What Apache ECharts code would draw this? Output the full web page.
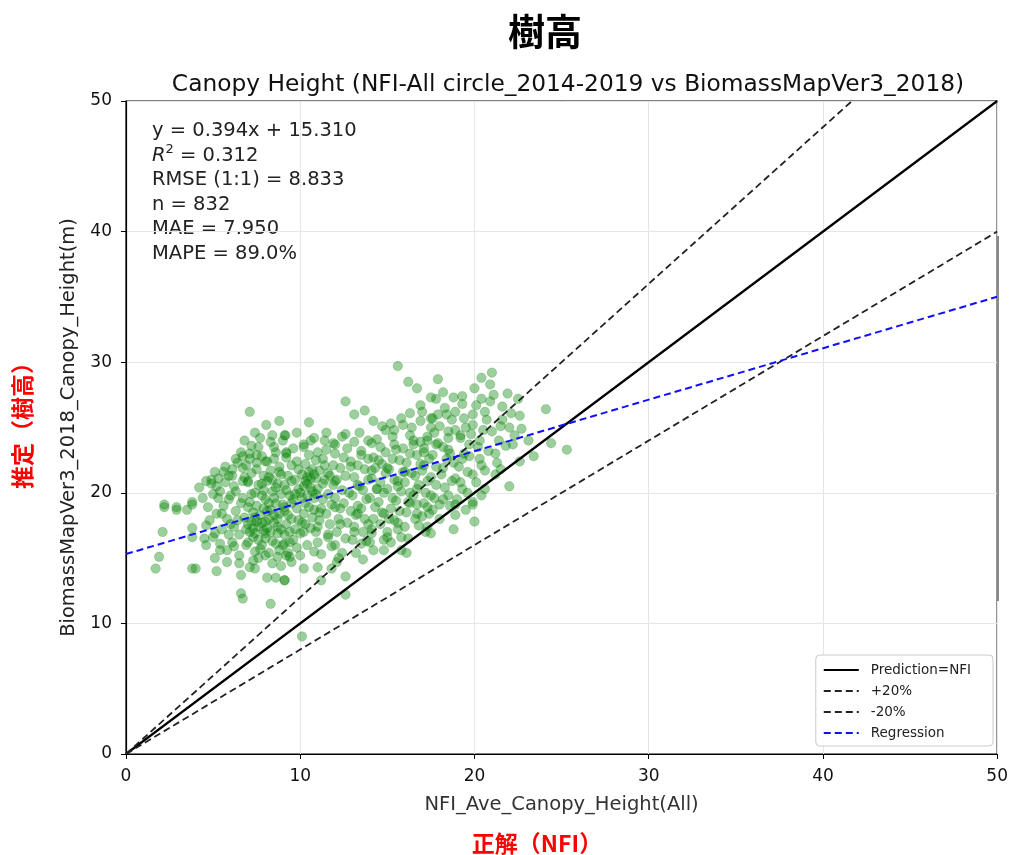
<!DOCTYPE html>
<html><head><meta charset="utf-8">
<script src="https://cdn.jsdelivr.net/npm/echarts@6/dist/echarts.min.js"></script>
<style>html,body{margin:0;padding:0;background:#fff}#c{width:1011px;height:855px}</style>
</head><body><div id="c"></div>
<script>
// ---- data ----
const xTicks = [0,10,20,30,40,50];
const yTicks = [0,10,20,30,40,50];
const regSlope = 0.394, regIntercept = 15.310;
const lineOneToOne = [[0,0],[50,50]];
const linePlus20 = [[0,0],[41.667,50]];
const lineMinus20 = [[0,0],[50,40]];
const regX = [0,50];
const points = [
[1.7,14.2],[1.9,15.1],[2.1,17.0],[2.2,18.9],[2.9,18.9],[3.5,18.7],[3.8,19.1],[3.8,16.6],[3.8,14.2],[4.0,14.2],
[5.1,15.0],[5.2,14.0],[4.6,17.5],[4.5,16.5],[5.0,16.6],[4.7,18.9],[5.5,18.4],[5.4,16.1],[5.8,14.7],[6.5,14.6],
[6.6,13.7],[6.6,12.3],[6.7,11.9],[8.3,11.5],[7.1,14.3],[7.4,14.2],[8.1,13.5],[8.6,13.5],[9.1,13.3],[8.0,15.2],
[8.7,15.1],[9.2,15.2],[5.8,15.6],[6.1,16.2],[6.2,17.4],[5.1,16.9],[3.8,17.3],
[4.2,20.4],[4.9,20.7],[5.2,20.5],[5.9,21.3],[6.1,21.3],[6.7,22.8],[7.1,23.0],[7.6,23.5],[7.5,22.9],[6.7,21.9],
[7.0,20.9],[5.4,20.1],[5.9,19.5],[2.2,19.1],[2.9,18.7],[3.8,19.3],[8.5,23.5],[9.2,23.1],[8.0,22.4],[8.8,21.6],
[7.1,26.2],[8.05,25.2],[8.8,25.5],[8.4,24.4],[9.15,24.4],
[9.1,24.4],[9.2,23.0],[10.2,23.7],[10.8,24.2],[11.5,24.6],[10.5,25.4],[12.0,23.7],[12.6,24.5],[13.1,23.9],[13.1,26.0],
[13.7,26.3],[12.6,27.0],[14.2,25.5],[14.7,25.1],[15.2,25.3],[15.8,25.7],[16.3,26.1],[16.9,26.7],[17.0,26.2],[15.6,29.7],
[16.2,28.5],[16.7,28.0],[17.5,27.3],[17.5,25.7],[15.3,24.3],[16.3,24.4],[17.3,24.0],[14.6,23.5],[14.1,23.8],[13.5,22.9],
[14.2,22.7],[15.4,23.7],[16.5,23.7],[17.1,23.4],[12.0,23.0],[11.0,23.1],[9.8,22.4],[11.4,22.1],[12.9,22.4],[14.1,21.7],
[15.0,21.9],[16.0,21.6],[17.1,22.1],[9.5,20.9],[10.6,21.1],[12.0,20.9],[13.3,20.6],[14.4,20.3],[15.6,20.5],[16.7,20.3],
[17.5,19.8],
[9.1,18.9],[9.9,17.9],[9.3,15.4],[9.1,13.3],[10.2,14.2],[11.0,14.3],[11.2,13.3],[11.8,14.2],[12.6,13.6],[12.6,12.2],
[10.1,9.0],[12.1,14.7],[12.4,15.4],[13.6,14.9],[14.8,15.6],[16.1,15.4],[15.8,15.6],[13.1,17.0],[14.1,16.9],[15.0,16.6],
[15.6,17.2],[13.5,16.1],[11.6,16.6],[11.0,17.4],[12.3,17.6],[10.2,17.0],[9.1,16.1],[9.5,14.7],[16.7,18.4],[17.3,18.9],
[16.3,19.2],[14.8,18.4],[13.3,18.4],[12.0,18.9],[10.8,18.7],[13.9,17.6],[15.4,17.9],[17.3,17.4],[17.5,16.9],
[17.9,28.7],[20.4,28.8],[21.0,29.2],[20.9,28.3],[20.0,28.0],[21.9,27.6],[22.5,27.2],[24.1,26.4],[25.3,23.3],[22.6,25.9],
[22.7,24.9],[23.1,24.0],[24.4,23.8],[23.4,22.8],[22.0,20.5],[21.3,22.3],[22.6,22.4],[18.2,27.7],[17.8,27.2],[18.8,27.3],
[19.3,26.8],[18.3,26.5],[18.9,26.2],[20.1,26.7],[20.4,27.2],[21.1,27.5],[20.6,26.2],[19.4,25.7],[19.9,25.2],[17.6,25.7],
[18.0,25.1],[18.5,24.7],[19.2,24.4],[21.0,24.7],[21.5,25.1],[22.1,26.1],[21.6,25.6],[20.3,24.0],[19.7,23.7],[18.5,23.3],
[17.8,23.7],[19.3,22.6],[20.4,22.1],[18.2,21.9],[21.2,21.4],[19.9,21.4],[18.9,21.1],[17.8,20.6],[19.3,20.3],[20.6,20.3],
[18.5,19.8],[19.9,19.3],[22.2,23.7],
[20.0,17.8],[18.8,17.2],[19.9,19.1],[19.5,18.7],[18.0,19.1],[18.9,19.1],[17.4,18.4],
[6.0,19.8],[6.2,20.5],[6.3,18.6],[6.4,17.9],[6.5,16.8],[6.6,19.2],[6.7,20.9],[6.8,18.1],[6.9,17.2],[6.1,21.8],
[6.4,22.3],[6.8,21.2],[6.2,15.9],[6.9,16.0],[6.5,15.2],[6.3,20.1],[6.7,19.6],[6.0,17.6],[6.9,22.1],[5.6,19.0],
[5.8,18.0],[5.5,17.2],[5.3,19.6],[5.7,20.8],[5.9,16.8],[5.2,18.4],[5.0,19.9],[4.8,17.9],[4.6,16.0],[5.4,15.6],
[5.7,22.0],[4.9,21.0],[5.1,21.6],
[7.0,16.2],[7.1,17.0],[7.2,17.8],[7.3,18.5],[7.1,19.3],[7.4,20.0],[7.0,20.8],[7.2,21.5],[7.5,22.3],[7.3,16.6],
[7.6,17.4],[7.7,18.3],[7.5,19.0],[7.8,19.8],[7.6,20.6],[7.9,21.3],[7.4,15.5],[7.8,16.0],[7.9,17.1],[7.2,23.6],
[7.7,24.2],[7.0,18.9],[7.6,15.0],[7.3,14.8],[7.9,18.8],[7.5,21.8],[7.1,22.6],[7.8,22.8],[7.4,16.9],[7.7,15.7],
[7.2,19.9],[7.9,20.2],[7.3,17.3],[7.6,16.4],[7.0,17.6],[7.8,17.7],[7.4,18.1],
[8.0,16.5],[8.1,17.3],[8.2,18.0],[8.3,18.7],[8.0,19.5],[8.4,20.1],[8.1,20.9],[8.3,21.7],[8.5,22.6],[8.6,16.1],
[8.7,16.9],[8.5,17.7],[8.8,18.4],[8.6,19.2],[8.9,19.9],[8.7,20.7],[8.9,21.4],[8.2,15.4],[8.8,15.6],[8.4,14.6],
[8.9,14.4],[8.1,22.4],[8.6,23.1],[8.3,23.9],[8.0,17.8],[8.5,19.6],[8.2,21.2],[8.8,22.0],[8.4,16.3],[8.7,18.0],
[8.9,17.2],[8.1,18.6],[8.6,20.4],[8.3,17.0],[8.0,16.9],[8.5,18.3],
[9.0,16.0],[9.1,16.8],[9.2,17.6],[9.3,18.3],[9.0,19.1],[9.4,19.8],[9.1,20.6],[9.3,21.3],[9.5,22.1],[9.6,16.4],
[9.7,17.2],[9.5,18.0],[9.8,18.8],[9.6,19.5],[9.9,20.3],[9.7,21.0],[9.9,21.8],[9.4,15.1],[9.8,15.8],[9.2,22.7],
[9.6,23.4],[9.0,24.0],[9.8,24.6],[9.4,17.0],[9.1,18.6],[9.7,19.9],
[10.0,16.9],[10.1,17.7],[10.2,18.4],[10.3,19.2],[10.0,20.0],[10.4,20.7],[10.1,21.4],[10.3,22.2],[10.5,22.9],[10.6,17.3],
[10.7,18.1],[10.5,18.9],[10.8,19.6],[10.6,20.4],[10.9,21.1],[10.7,21.8],[10.9,22.5],[10.4,16.0],[10.8,15.5],[10.2,23.5],
[10.6,24.0],[10.0,15.2],[10.9,17.0],[10.3,20.9],[10.5,21.6],[10.1,19.6],[10.7,20.1],[10.4,21.2],[10.8,21.4],[10.2,20.5],
[11.0,16.2],[11.1,17.9],[11.2,18.8],[11.3,19.5],[11.0,20.3],[11.4,21.0],[11.1,21.7],[11.3,22.6],[11.5,23.3],[11.6,16.8],
[11.7,17.6],[11.5,18.4],[11.8,19.1],[11.6,19.9],[11.9,20.6],[11.7,21.3],[11.9,22.1],[11.2,15.3],[11.8,15.9],[11.4,24.0],
[11.9,23.8],[11.1,18.5],[11.6,21.5],
[12.0,16.0],[12.1,17.0],[12.2,18.0],[12.3,18.8],[12.0,19.6],[12.4,20.2],[12.1,21.0],[12.3,21.9],[12.5,22.7],[12.6,16.5],
[12.7,17.7],[12.5,19.2],[12.8,20.0],[12.6,21.3],[12.9,22.0],[12.7,23.4],[12.2,15.0],[12.9,18.6],[12.4,24.3],
[13.0,16.4],[13.1,17.4],[13.2,18.3],[13.3,19.0],[13.0,19.8],[13.4,20.5],[13.1,21.2],[13.3,22.1],[13.5,23.2],[13.6,17.0],
[13.7,18.0],[13.5,18.8],[13.8,19.5],[13.6,20.2],[13.9,21.0],[13.7,21.8],[13.9,22.6],[13.2,15.4],[13.8,16.3],[13.4,24.6],
[13.9,24.0],
[14.0,16.2],[14.1,17.2],[14.2,18.0],[14.3,18.9],[14.0,19.6],[14.4,20.3],[14.1,21.1],[14.3,21.9],[14.5,22.5],[14.6,17.6],
[14.7,18.5],[14.5,19.3],[14.8,20.0],[14.6,20.8],[14.9,21.5],[14.7,22.2],[14.9,23.1],[14.2,15.6],[14.8,16.4],[14.4,24.1],
[14.9,24.8],
[15.0,17.0],[15.1,18.0],[15.2,18.8],[15.3,19.6],[15.0,20.3],[15.4,21.0],[15.1,21.8],[15.3,22.6],[15.5,23.3],[15.6,17.7],
[15.7,18.6],[15.5,19.4],[15.8,20.1],[15.6,20.9],[15.9,21.6],[15.7,22.5],[15.9,23.4],[15.2,16.2],[15.8,16.6],[15.4,24.8],
[15.9,25.2],
[16.0,17.4],[16.1,18.5],[16.2,19.3],[16.3,20.0],[16.0,20.8],[16.4,21.5],[16.1,22.3],[16.3,23.0],[16.5,24.0],[16.6,18.0],
[16.7,19.1],[16.5,19.8],[16.8,20.6],[16.6,21.3],[16.9,22.2],[16.7,22.9],[16.9,23.9],[16.2,16.5],[16.8,17.5],[16.4,25.0],
[16.9,25.5],
[17.0,18.2],[17.1,19.2],[17.2,20.0],[17.3,20.9],[17.0,21.7],[17.4,22.6],[17.1,23.1],[17.3,24.3],[17.5,25.0],[17.6,18.7],
[17.7,19.6],[17.5,21.2],[17.8,22.0],[17.6,22.9],[17.9,23.8],[17.7,24.6],[17.9,26.0],[17.2,17.0],
[18.0,18.0],[18.2,19.5],[18.3,20.4],[18.1,21.4],[18.4,22.6],[18.2,23.5],[18.5,24.2],[18.6,19.0],[18.7,20.9],[18.8,22.3],
[18.6,23.0],[18.9,24.8],[18.7,25.6],[18.4,26.0],[18.9,18.3],
[19.0,19.5],[19.2,20.8],[19.1,22.0],[19.4,23.0],[19.2,24.2],[19.5,25.0],[19.6,21.6],[19.7,22.8],[19.8,24.5],[19.9,26.0],
[19.3,27.4],[19.6,20.0],
[20.1,20.8],[20.3,22.6],[20.2,23.5],[20.5,24.8],[20.7,25.6],[20.8,23.2],[20.6,21.7],[20.9,27.0],[20.4,19.8],
[21.2,23.0],[21.4,24.0],[21.6,26.6],[21.8,23.6],[22.0,25.0],[21.5,21.8],[22.3,24.4],
[4.4,19.6],[4.6,20.9],[5.3,21.1],[5.6,21.6],[6.3,22.6],[6.6,23.1],[7.4,24.6],[6.8,24.0],[8.2,19.2],[7.8,20.7],
[8.4,21.0],[9.2,20.2],[9.5,19.2],[10.4,19.8],[10.9,19.9],[11.3,20.7],[8.7,17.4],[9.4,16.2],[10.3,17.6],[7.5,17.8]
];

const regLine = regX.map(x => [x, regSlope * x + regIntercept]);
const chart = echarts.init(document.getElementById('c'), null, {renderer:'canvas'});
const F = 'DejaVu Sans';
const lineSeries = (name, data, color, type, width) => ({
  name, type:'line', data, symbol:'none', silent:true, clip:true, z:3,
  lineStyle:{color, type, width}, itemStyle:{color}
});
const dash = [7,4];
chart.setOption({
  animation:false,
  backgroundColor:'#fff',
  title:[
    {text:'樹高', left:540, top:8, textAlign:'center', textStyle:{fontFamily:'Noto Sans CJK JP', fontSize:37, fontWeight:'bold', color:'#000'}},
    {text:'Canopy Height (NFI-All circle_2014-2019 vs BiomassMapVer3_2018)', left:563, top:68, textAlign:'center', textStyle:{fontFamily:F, fontSize:23.3, fontWeight:'normal', color:'#111'}}
  ],
  grid:{left:126, right:11, top:101, bottom:101, show:true, borderColor:'#000', borderWidth:1.2, backgroundColor:'transparent'},
  xAxis:{type:'value', min:0, max:50, interval:10,
    name:'NFI_Ave_Canopy_Height(All)', nameLocation:'middle', nameGap:41,
    nameTextStyle:{fontFamily:F, fontSize:19.5, color:'#333'},
    axisLine:{show:true, lineStyle:{color:'#000', width:1.2}},
    axisTick:{show:true, length:5, lineStyle:{color:'#000'}},
    axisLabel:{fontFamily:F, fontSize:17, color:'#111', margin:14, formatter:v=>xTicks.includes(v)?String(v):''},
    splitLine:{show:true, lineStyle:{color:'#e6e6e6', width:1}}},
  yAxis:{type:'value', min:0, max:50, interval:10,
    name:'BiomassMapVer3_2018_Canopy_Height(m)', nameLocation:'middle', nameGap:47, nameRotate:90,
    nameTextStyle:{fontFamily:F, fontSize:19.5, color:'#222'},
    axisLine:{show:true, lineStyle:{color:'#000', width:1.2}},
    axisTick:{show:true, length:5, lineStyle:{color:'#000'}},
    axisLabel:{fontFamily:F, fontSize:17, color:'#111', margin:14, formatter:v=>yTicks.includes(v)?String(v):''},
    splitLine:{show:true, lineStyle:{color:'#e6e6e6', width:1}}},
  legend:{orient:'vertical', right:18, bottom:109, itemWidth:35, itemHeight:12, itemGap:7,
    padding:[8,22,6,7], backgroundColor:'rgba(255,255,255,0.85)', borderColor:'#ccc', borderWidth:1, borderRadius:4,
    itemStyle:{opacity:0},
    textStyle:{fontFamily:F, fontSize:13.5, color:'#222', padding:[0,0,0,7]},
    data:['Prediction=NFI','+20%','-20%','Regression']},
  series:[
    {name:'points', type:'scatter', data:points, symbolSize:9.5, z:2,
      itemStyle:{color:'rgba(0,128,0,0.48)', borderColor:'rgba(0,128,0,0.25)', borderWidth:1}},
    lineSeries('Prediction=NFI', lineOneToOne, '#000', 'solid', 2.2),
    lineSeries('+20%', linePlus20, '#222', dash, 1.8),
    lineSeries('-20%', lineMinus20, '#222', dash, 1.8),
    lineSeries('Regression', regLine, '#1010ff', dash, 2)
  ],
  graphic:[
    {type:'text', left:152, top:119, style:{
      text:'y = 0.394x + 15.310\n{i|R}{s|2} = 0.312\nRMSE (1:1) = 8.833\nn = 832\nMAE = 7.950\nMAPE = 89.0%',
      font:'19.5px "DejaVu Sans"', fill:'#222', lineHeight:24.5,
      rich:{i:{fontFamily:F, fontStyle:'italic', fontSize:19.5, fill:'#222'}, s:{fontFamily:F, fontSize:13, fill:'#222', verticalAlign:'top', padding:[0,0,9,0]}}
    }},
    {type:'rect', shape:{x:997, y:236, width:2, height:365}, style:{fill:'#8a8a8a'}, z:10},
    {type:'text', x:22, y:420, rotation:Math.PI/2, style:{text:'推定（樹高）', font:'bold 23px "Noto Sans CJK JP"', fill:'#ff0000', align:'center', verticalAlign:'middle'}},
    {type:'text', x:537, y:843, style:{text:'正解（NFI）', font:'bold 23px "Noto Sans CJK JP"', fill:'#ff0000', align:'center', verticalAlign:'middle'}}
  ]
});
</script></body></html>
